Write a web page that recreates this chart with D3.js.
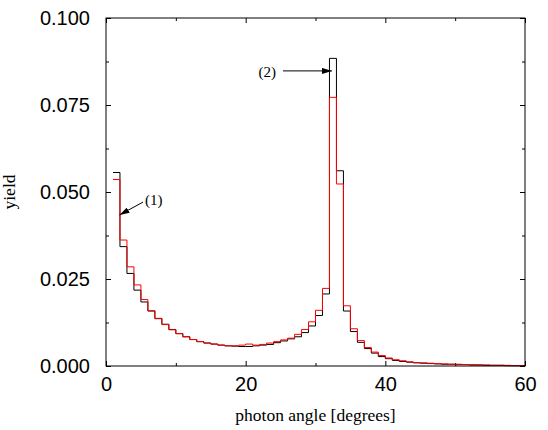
<!DOCTYPE html>
<html><head><meta charset="utf-8">
<script src="https://cdn.jsdelivr.net/npm/d3@7"></script>
<style>html,body{margin:0;padding:0;background:#fff;}svg{display:block;}</style>
</head><body>
<script>
// Bin lower edges (degrees); each bin is 1 degree wide
const binStarts = d3.range(1, 60);
const blackYield = [0.0556,0.0343,0.0266,0.0218,0.0184,0.0158,0.0136,0.0120,0.0105,0.0093,
  0.0084,0.0076,0.0070,0.0066,0.0063,0.0060,0.0058,0.0057,0.0056,0.0056,
  0.0058,0.0060,0.0062,0.0067,0.0072,0.0078,0.0084,0.0096,0.0115,0.0145,
  0.0207,0.0884,0.0561,0.0158,0.0099,0.0068,0.0050,0.0037,0.0027,0.0021,
  0.0016,0.0013,0.0011,0.0009,0.0008,0.0007,0.0006,0.0005,0.0005,0.0004,
  0.0004,0.0003,0.0003,0.0002,0.0002,0.0002,0.0001,0.0001,0.0001];
const redYield = [0.0536,0.0362,0.0285,0.0233,0.0191,0.0159,0.0137,0.0119,0.0104,0.0093,
  0.0084,0.0076,0.0070,0.0066,0.0063,0.0060,0.0058,0.0058,0.0060,0.0063,
  0.0060,0.0062,0.0066,0.0070,0.0075,0.0080,0.0091,0.0105,0.0127,0.0160,
  0.0223,0.0772,0.0523,0.0173,0.0107,0.0073,0.0053,0.0040,0.0030,0.0023,
  0.0018,0.0015,0.0012,0.0010,0.0009,0.0008,0.0007,0.0006,0.0005,0.0005,
  0.0004,0.0004,0.0003,0.0003,0.0002,0.0002,0.0002,0.0001,0.0001];
const xTicks = [0, 20, 40, 60];
const xMinorTicks = [10, 30, 50];
const yTicks = [0, 0.025, 0.05, 0.075, 0.1];
const yMinorTicks = [0.0125, 0.0375, 0.0625, 0.0875];
const annotations = [
  {label: "(1)", tx: 5.58, ty: 0.0477, x1: 5.3, y1: 0.0471, x2: 1.93, y2: 0.0434, anchor: "start"},
  {label: "(2)", tx: 24.35, ty: 0.0845, x1: 25.35, y1: 0.0848, x2: 32.36, y2: 0.0848, anchor: "end"}
];

const W = 548, H = 430;
const m = {left: 106, right: 23, top: 18, bottom: 64};
const iw = W - m.left - m.right, ih = H - m.top - m.bottom;

const svg = d3.select("body").append("svg").attr("width", W).attr("height", H);
const g = svg.append("g").attr("transform", `translate(${m.left},${m.top})`);

const x = d3.scaleLinear().domain([0, 60]).range([0, iw]);
const y = d3.scaleLinear().domain([0, 0.1]).range([ih, 0]);

const tickFont = "'Liberation Sans', Arial, sans-serif";
const serif = "'Liberation Serif', 'Times New Roman', serif";
function styleAxis(sel) {
  sel.select(".domain").remove();
  sel.selectAll(".tick line").attr("stroke", "#000");
  sel.selectAll("text").attr("font-family", tickFont).attr("font-size", 20).attr("fill", "#000");
}
// Major axes
g.append("g").attr("transform", `translate(0,${ih})`)
  .call(d3.axisBottom(x).tickValues(xTicks).tickFormat(d3.format("d")).tickSize(-5).tickPadding(11)).call(styleAxis);
g.append("g")
  .call(d3.axisLeft(y).tickValues(yTicks).tickFormat(d3.format(".3f")).tickSize(-5).tickPadding(16)).call(styleAxis);
g.append("g")
  .call(d3.axisTop(x).tickValues(xTicks).tickFormat("").tickSize(-5)).call(styleAxis);
g.append("g").attr("transform", `translate(${iw},0)`)
  .call(d3.axisRight(y).tickValues(yTicks).tickFormat("").tickSize(-5)).call(styleAxis);
// Minor ticks
g.append("g").attr("transform", `translate(0,${ih})`)
  .call(d3.axisBottom(x).tickValues(xMinorTicks).tickFormat("").tickSize(-3)).call(styleAxis);
g.append("g")
  .call(d3.axisTop(x).tickValues(xMinorTicks).tickFormat("").tickSize(-3)).call(styleAxis);
g.append("g")
  .call(d3.axisLeft(y).tickValues(yMinorTicks).tickFormat("").tickSize(-3)).call(styleAxis);
g.append("g").attr("transform", `translate(${iw},0)`)
  .call(d3.axisRight(y).tickValues(yMinorTicks).tickFormat("").tickSize(-3)).call(styleAxis);

// Histogram step lines
function stepPoints(vals) {
  const pts = binStarts.map((b, i) => [b, vals[i]]);
  pts.push([binStarts[binStarts.length - 1] + 1, vals[vals.length - 1]]);
  return pts;
}
const line = d3.line().x(d => x(d[0])).y(d => y(d[1])).curve(d3.curveStepAfter);
g.append("path").attr("d", line(stepPoints(blackYield))).attr("fill", "none").attr("stroke", "#000").attr("stroke-width", 1);
g.append("path").attr("d", line(stepPoints(redYield))).attr("fill", "none").attr("stroke", "#ff0000").attr("stroke-width", 1);

// Frame
g.append("rect").attr("x", 0).attr("y", 0).attr("width", iw).attr("height", ih)
  .attr("fill", "none").attr("stroke", "#000").attr("stroke-width", 1);

// Annotations
svg.append("defs").append("marker").attr("id", "ah").attr("viewBox", "0 0 10 6")
  .attr("refX", 10).attr("refY", 3).attr("markerWidth", 10).attr("markerHeight", 6)
  .attr("markerUnits", "userSpaceOnUse").attr("orient", "auto")
  .append("path").attr("d", "M0,0 L10,3 L0,6 Z").attr("fill", "#000");
annotations.forEach(a => {
  g.append("line").attr("x1", x(a.x1)).attr("y1", y(a.y1)).attr("x2", x(a.x2)).attr("y2", y(a.y2))
    .attr("stroke", "#000").attr("stroke-width", 1).attr("marker-end", "url(#ah)");
  g.append("text").attr("x", x(a.tx)).attr("y", y(a.ty)).attr("dy", "0.35em")
    .attr("text-anchor", a.anchor).attr("font-family", serif)
    .attr("font-size", 15).text(a.label);
});

// Axis titles
svg.append("text").attr("x", m.left + iw / 2).attr("y", 421).attr("text-anchor", "middle")
  .attr("font-family", serif).attr("font-size", 17.5).text("photon angle [degrees]");
svg.append("text").attr("transform", `translate(15,${m.top + ih / 2}) rotate(-90)`).attr("text-anchor", "middle")
  .attr("font-family", serif).attr("font-size", 17.5).text("yield");
</script>
</body></html>
